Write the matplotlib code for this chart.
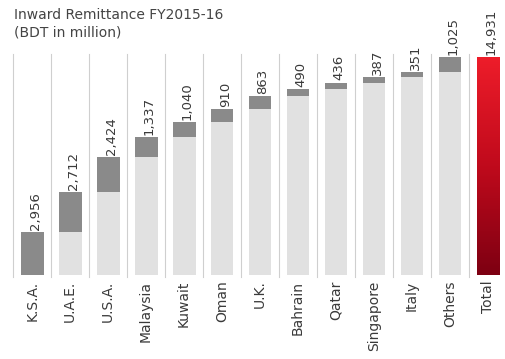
import numpy as np
import matplotlib
matplotlib.use("Agg")
from matplotlib import pyplot as plt
from matplotlib.colors import LinearSegmentedColormap

plt.rcParams['font.family'] = ['DejaVu Sans']

# remittance by country, BDT in million
countries = ['K.S.A.', 'U.A.E.', 'U.S.A.', 'Malaysia', 'Kuwait', 'Oman', 'U.K.',
             'Bahrain', 'Qatar', 'Singapore', 'Italy', 'Others']
amounts = [2956, 2712, 2424, 1337, 1040, 910, 863, 490, 436, 387, 351, 1025]
total_label = 'Total'
total_amount = 14931

amounts = np.array(amounts)
bases = np.concatenate(([0], np.cumsum(amounts)[:-1]))
x = np.arange(len(countries))
x_total = len(countries)

fig = plt.figure(figsize=(5.06, 3.59), dpi=100)
ax = fig.add_axes([0.026, 0.234, 0.976, 0.651])

# column separators
for i in range(len(countries) + 1):
    ax.plot([i - 0.5, i - 0.5], [-150, 15150], color='#cfcfcf', lw=0.8,
            clip_on=False, zorder=0)

bar_w = 0.6
# running total below each step
ax.bar(x, bases, width=bar_w, color='#e1e1e1', zorder=2)
# the step itself
ax.bar(x, amounts, bottom=bases, width=bar_w, color='#8a8a8a', zorder=3)

# total bar with red gradient
tot = ax.bar([x_total], [total_amount], width=bar_w, color='none', zorder=3)[0]
cmap = LinearSegmentedColormap.from_list('red', ['#7d0012', '#c00a1c', '#ee1d2a'])
grad = np.linspace(0, 1, 256).reshape(-1, 1)
im = ax.imshow(grad, cmap=cmap, origin='lower', aspect='auto', zorder=3,
               extent=[x_total - bar_w / 2, x_total + bar_w / 2, 0, total_amount])
im.set_clip_path(tot)

# value labels above each bar
for xi, b, a in zip(x, bases, amounts):
    ax.text(xi + 0.08, b + a + 150, f'{a:,}', rotation=90, ha='center', va='bottom',
            fontsize=9.5, color='#3a3a3a')
ax.text(x_total + 0.08, total_amount + 150, f'{total_amount:,}', rotation=90,
        ha='center', va='bottom', fontsize=9.5, color='#3a3a3a', clip_on=False)

ax.set_xlim(-0.5, len(countries) + 0.5)
ax.set_ylim(0, 16000)
ax.set_xticks(list(x) + [x_total])
ax.set_xticklabels(countries + [total_label], rotation=90, fontsize=10, color='#3a3a3a')
ax.tick_params(axis='x', length=0, pad=4)
ax.set_yticks([])
for s in ax.spines.values():
    s.set_visible(False)

fig.text(14 / 506, 1 - 8 / 359, 'Inward Remittance FY2015-16\n(BDT in million)',
         ha='left', va='top', fontsize=10, color='#444444', linespacing=1.35)

fig.savefig('out.png', dpi=100)
